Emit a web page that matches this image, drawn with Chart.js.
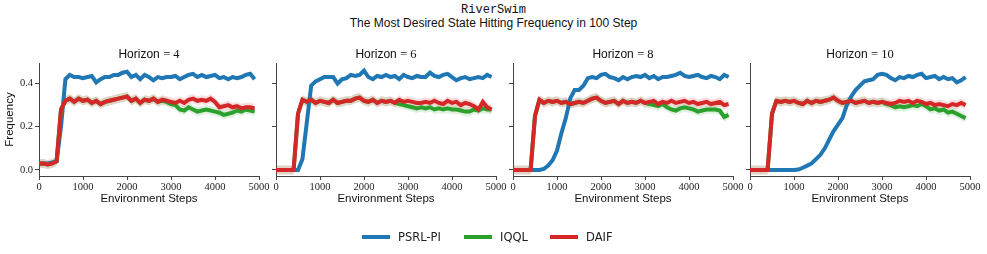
<!DOCTYPE html>
<html>
<head>
<meta charset="utf-8">
<script src="https://cdn.jsdelivr.net/npm/chart.js@4/dist/chart.umd.min.js"></script>
<style>
  body { margin: 0; background: #fff; width: 987px; height: 254px; position: relative; overflow: hidden; }
  .sup { position: absolute; left: 0; width: 987px; text-align: center; color: #111; }
  #sup1 { top: 3px; font: 12px "Liberation Mono", monospace; }
  #sup2 { top: 16px; font: 12px "Liberation Sans", sans-serif; }
  canvas { position: absolute; top: 40px; }
  .leg-line { position: absolute; top: 235px; width: 28px; height: 4px; }
  .leg-text { position: absolute; top: 229px; font: 11.5px "DejaVu Sans", sans-serif; color: #222; line-height: 16px; }
</style>
</head>
<body>
<div class="sup" id="sup1">RiverSwim</div>
<div class="sup" id="sup2">The Most Desired State Hitting Frequency in 100 Step</div>

<canvas id="c0" width="274" height="166" style="left:0px"></canvas>
<canvas id="c1" width="274" height="166" style="left:237px"></canvas>
<canvas id="c2" width="274" height="166" style="left:474px"></canvas>
<canvas id="c3" width="274" height="166" style="left:711px"></canvas>

<div class="leg-line" style="left:362px;background:#1f77b4"></div>
<div class="leg-text" style="left:398px">PSRL-PI</div>
<div class="leg-line" style="left:464px;background:#2ca02c"></div>
<div class="leg-text" style="left:500px">IQQL</div>
<div class="leg-line" style="left:550px;background:#d62728"></div>
<div class="leg-text" style="left:586px">DAIF</div>

<script>
// ---- data ----
const steps = [
  0, 100, 200, 300, 400, 500, 600, 700, 800, 900,
  1000, 1100, 1200, 1300, 1400, 1500, 1600, 1700, 1800, 1900,
  2000, 2100, 2200, 2300, 2400, 2500, 2600, 2700, 2800, 2900,
  3000, 3100, 3200, 3300, 3400, 3500, 3600, 3700, 3800, 3900,
  4000, 4100, 4200, 4300, 4400, 4500, 4600, 4700, 4800, 4900
];
const horizons = [4, 6, 8, 10];
const xTicks = [0, 1000, 2000, 3000, 4000, 5000];
const yTicks = [0, 0.2, 0.4];

// Horizon = 4
const psrlH4 = [0.03,0.03,0.03,0.035,0.04,0.2,0.42,0.44,0.43,0.43,
  0.425,0.43,0.435,0.405,0.42,0.43,0.43,0.44,0.44,0.45,
  0.455,0.43,0.44,0.42,0.44,0.43,0.415,0.43,0.425,0.43,
  0.43,0.435,0.42,0.43,0.44,0.445,0.43,0.44,0.43,0.435,
  0.44,0.425,0.43,0.42,0.43,0.425,0.43,0.44,0.445,0.42];
const iqqlH4 = [0.03,0.03,0.025,0.03,0.04,0.28,0.32,0.33,0.315,0.33,
  0.32,0.325,0.31,0.32,0.305,0.315,0.32,0.325,0.33,0.335,
  0.34,0.32,0.33,0.31,0.325,0.32,0.33,0.315,0.32,0.315,
  0.305,0.3,0.28,0.275,0.29,0.28,0.27,0.275,0.28,0.275,
  0.27,0.265,0.255,0.26,0.265,0.275,0.27,0.28,0.275,0.27];
const daifH4 = [0.03,0.03,0.025,0.03,0.04,0.28,0.32,0.33,0.315,0.33,
  0.32,0.325,0.31,0.32,0.305,0.315,0.32,0.325,0.33,0.335,
  0.34,0.32,0.33,0.31,0.325,0.32,0.33,0.315,0.325,0.32,
  0.315,0.31,0.32,0.31,0.325,0.33,0.32,0.325,0.32,0.33,
  0.315,0.29,0.295,0.3,0.29,0.295,0.285,0.29,0.29,0.285];

// Horizon = 6
const psrlH6 = [0,0,0,0,0,0,0.05,0.22,0.39,0.41,
  0.42,0.43,0.43,0.43,0.4,0.42,0.425,0.44,0.435,0.44,
  0.46,0.43,0.42,0.435,0.43,0.44,0.43,0.435,0.42,0.44,
  0.43,0.425,0.435,0.43,0.43,0.45,0.435,0.43,0.44,0.445,
  0.43,0.415,0.425,0.43,0.42,0.425,0.43,0.425,0.44,0.43];
const iqqlH6 = [0,0,0,0,0,0.26,0.325,0.315,0.325,0.31,
  0.32,0.315,0.31,0.325,0.31,0.315,0.32,0.32,0.33,0.335,
  0.32,0.315,0.325,0.31,0.32,0.315,0.32,0.31,0.305,0.3,
  0.295,0.29,0.285,0.29,0.285,0.29,0.28,0.285,0.28,0.285,
  0.28,0.28,0.275,0.27,0.27,0.28,0.275,0.285,0.28,0.28];
const daifH6 = [0,0,0,0,0,0.26,0.325,0.315,0.325,0.31,
  0.32,0.315,0.31,0.325,0.31,0.315,0.32,0.32,0.33,0.335,
  0.32,0.315,0.325,0.31,0.32,0.315,0.32,0.31,0.325,0.315,
  0.32,0.315,0.31,0.31,0.315,0.31,0.32,0.31,0.305,0.32,
  0.31,0.315,0.3,0.31,0.305,0.295,0.28,0.315,0.29,0.28];

// Horizon = 8
const psrlH8 = [0,0,0,0,0,0,0,0.005,0.02,0.045,
  0.09,0.17,0.24,0.33,0.37,0.37,0.39,0.425,0.43,0.425,
  0.44,0.445,0.43,0.425,0.415,0.43,0.42,0.43,0.435,0.43,
  0.44,0.425,0.435,0.42,0.43,0.43,0.435,0.44,0.45,0.435,
  0.43,0.435,0.44,0.43,0.425,0.435,0.43,0.42,0.44,0.43];
const iqqlH8 = [0,0,0,0,0,0.25,0.325,0.31,0.32,0.315,
  0.32,0.31,0.315,0.305,0.31,0.315,0.31,0.32,0.33,0.335,
  0.32,0.31,0.315,0.32,0.305,0.32,0.31,0.315,0.31,0.32,
  0.31,0.305,0.3,0.295,0.305,0.29,0.28,0.275,0.285,0.29,
  0.285,0.28,0.27,0.275,0.28,0.28,0.28,0.275,0.245,0.255];
const daifH8 = [0,0,0,0,0,0.25,0.325,0.31,0.32,0.315,
  0.32,0.31,0.315,0.305,0.31,0.315,0.31,0.32,0.33,0.335,
  0.32,0.31,0.315,0.32,0.305,0.32,0.31,0.315,0.31,0.32,
  0.31,0.315,0.32,0.305,0.315,0.31,0.32,0.31,0.315,0.32,
  0.31,0.315,0.305,0.31,0.315,0.305,0.31,0.315,0.3,0.305];

// Horizon = 10
const psrlH10 = [0,0,0,0,0,0,0,0,0,0,
  0,0.002,0.01,0.02,0.03,0.05,0.07,0.1,0.14,0.18,
  0.21,0.24,0.3,0.34,0.37,0.39,0.41,0.415,0.42,0.44,
  0.445,0.44,0.425,0.415,0.43,0.425,0.435,0.43,0.44,0.445,
  0.425,0.43,0.435,0.42,0.43,0.42,0.425,0.405,0.415,0.43];
const iqqlH10 = [0,0,0,0,0,0.26,0.32,0.315,0.32,0.315,
  0.32,0.31,0.305,0.32,0.31,0.32,0.315,0.32,0.325,0.335,
  0.32,0.31,0.315,0.32,0.31,0.315,0.32,0.31,0.315,0.31,
  0.315,0.305,0.3,0.29,0.295,0.29,0.295,0.3,0.295,0.305,
  0.295,0.28,0.285,0.275,0.28,0.265,0.27,0.26,0.25,0.24];
const daifH10 = [0,0,0,0,0,0.26,0.32,0.315,0.32,0.315,
  0.32,0.31,0.305,0.32,0.31,0.32,0.315,0.32,0.325,0.335,
  0.32,0.31,0.315,0.32,0.31,0.315,0.32,0.31,0.315,0.31,
  0.315,0.31,0.305,0.31,0.32,0.315,0.32,0.31,0.32,0.315,
  0.305,0.31,0.3,0.305,0.3,0.295,0.305,0.3,0.31,0.3];

// half-width of the shaded band around each mean curve
const spreadPsrl = 0.008;
const spreadIqql = 0.021;
const spreadDaif = 0.021;

const panels = [
  { psrl: psrlH4, iqql: iqqlH4, daif: daifH4 },
  { psrl: psrlH6, iqql: iqqlH6, daif: daifH6 },
  { psrl: psrlH8, iqql: iqqlH8, daif: daifH8 },
  { psrl: psrlH10, iqql: iqqlH10, daif: daifH10 }
];

const methods = [
  { key: 'daif', label: 'DAIF', color: '#d62728', band: 'rgba(214,39,40,0.15)', spread: spreadDaif },
  { key: 'iqql', label: 'IQQL', color: '#2ca02c', band: 'rgba(44,160,44,0.15)', spread: spreadIqql },
  { key: 'psrl', label: 'PSRL-PI', color: '#1f77b4', band: 'rgba(31,119,180,0.2)', spread: spreadPsrl }
];

const sans = '"Liberation Sans", sans-serif';
const serif = '"Liberation Serif", serif';
const axisColor = '#444';

// "Horizon = h" title, sans word + serif math part
const panelTitle = {
  id: 'panelTitle',
  afterDraw(chart, args, opts) {
    const { ctx, chartArea } = chart;
    const a = 'Horizon ';
    const b = '= ' + opts.h;
    ctx.save();
    ctx.font = '12px ' + sans;
    const wa = ctx.measureText(a).width;
    ctx.font = '12.5px ' + serif;
    const wb = ctx.measureText(b).width;
    let x = (chartArea.left + chartArea.right) / 2 - (wa + wb) / 2;
    ctx.textBaseline = 'middle';
    ctx.textAlign = 'left';
    ctx.fillStyle = '#111';
    ctx.font = '12px ' + sans;
    ctx.fillText(a, x, 15);
    ctx.font = '12.5px ' + serif;
    ctx.fillText(b, x + wa, 15);
    ctx.restore();
  }
};

const pts = (vals, d) => steps.map((s, i) => ({ x: s, y: vals[i] + d }));

panels.forEach((p, idx) => {
  const datasets = [];
  methods.forEach((m, k) => {
    datasets.push({
      label: m.label,
      data: pts(p[m.key], 0),
      borderColor: m.color,
      borderWidth: 4,
      pointRadius: 0,
      tension: 0,
      fill: false,
      order: k
    });
  });
  methods.forEach((m, k) => {
    const upper = datasets.length;
    datasets.push({
      data: pts(p[m.key], m.spread),
      borderWidth: 0,
      pointRadius: 0,
      backgroundColor: m.band,
      fill: upper + 1,
      order: 10 + k
    });
    datasets.push({
      data: pts(p[m.key], -m.spread),
      borderWidth: 0,
      pointRadius: 0,
      fill: false,
      order: 10 + k
    });
  });

  new Chart(document.getElementById('c' + idx), {
    type: 'line',
    data: { datasets },
    plugins: [panelTitle],
    options: {
      responsive: false,
      animation: false,
      layout: { padding: { top: 23, right: 15, left: 0, bottom: 0 } },
      plugins: {
        legend: { display: false },
        tooltip: { enabled: false },
        panelTitle: { h: horizons[idx] }
      },
      scales: {
        x: {
          type: 'linear',
          min: 0,
          max: 5000,
          afterBuildTicks: s => { s.ticks = xTicks.map(v => ({ value: v })); },
          afterFit: s => { s.height = 30; },
          border: { color: axisColor, width: 1 },
          grid: { drawOnChartArea: false, drawTicks: true, tickLength: 4, color: axisColor },
          ticks: {
            font: { family: serif, size: 10.5 },
            color: '#222',
            padding: 1,
            maxRotation: 0,
            autoSkip: false,
            callback: v => String(v)
          },
          title: {
            display: true,
            text: 'Environment Steps',
            font: { family: sans, size: 11.5 },
            color: '#111',
            padding: { top: 0, bottom: 0 }
          }
        },
        y: {
          min: -0.028,
          max: 0.495,
          afterBuildTicks: s => { s.ticks = yTicks.map(v => ({ value: v })); },
          afterFit: s => { s.width = 39; },
          border: { color: axisColor, width: 1 },
          grid: { drawOnChartArea: false, drawTicks: true, tickLength: 4, color: axisColor },
          ticks: {
            display: idx === 0,
            font: { family: serif, size: 10.5 },
            color: '#222',
            padding: 2,
            callback: v => v.toFixed(1)
          },
          title: {
            display: idx === 0,
            text: 'Frequency',
            font: { family: sans, size: 11.5 },
            color: '#111',
            padding: { top: 3, bottom: 0 }
          }
        }
      }
    }
  });
});
</script>
</body>
</html>
